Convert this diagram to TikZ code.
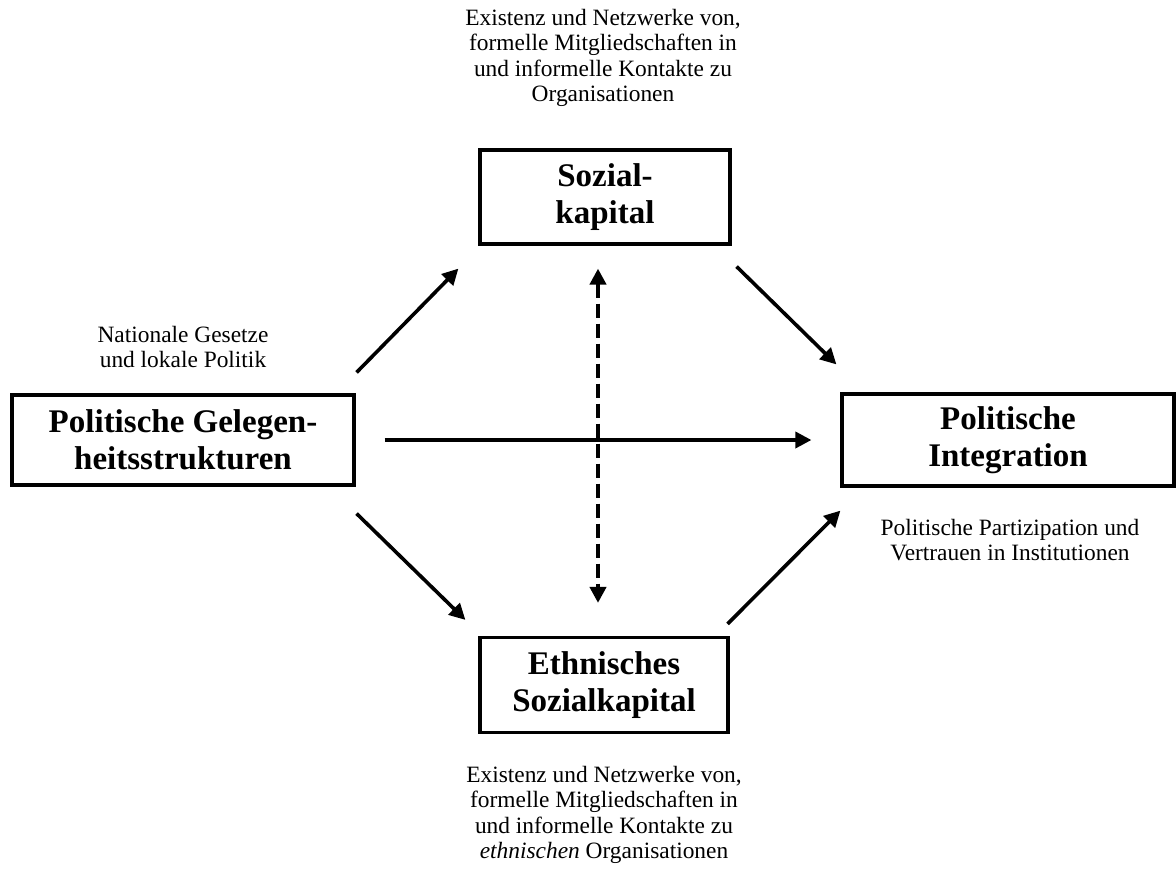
\documentclass[tikz,border=0pt]{standalone}
\usepackage{fontspec}
\setmainfont{Liberation Serif}
\usetikzlibrary{positioning,arrows.meta}

\begin{document}
\begin{tikzpicture}[
	x=0.5pt, y=-0.5pt,
	box/.style={
		draw,
		rectangle,
		line width=1.6pt,
		align=center,
		font=\fontsize{16.5}{18.5}\selectfont\bfseries
	},
	note/.style={
		align=center,
		font=\fontsize{11.7}{12.75}\selectfont
	},
	arrow/.style={
		line width=1.8pt,
		-{Triangle[length=8pt,width=8pt]}
	},
	dasharrow/.style={
		line width=2pt,
		dash pattern=on 7pt off 3pt,
		{Triangle[length=8pt,width=8pt]}-{Triangle[length=8pt,width=8pt]}
	}
	]
	\useasboundingbox (0,0) rectangle (1176,872);
	
	% Nodes
	\node[box, minimum width=171pt, minimum height=45pt] (pol) at (183,440) {Politische Gelegen-\\heitsstrukturen};
	\node[box, minimum width=125pt, minimum height=47pt] (soz) at (605,197) {Sozial-\\kapital};
	\node[box, minimum width=166pt, minimum height=46pt] (integ) at (1008,440) {Politische\\Integration};
	\node[box, minimum width=124pt, minimum height=47.5pt] (ethn) at (604,685) {Ethnisches\\Sozialkapital};
	
	% Notes
	\node[note] (sozinfo) at (603,58) {Existenz und Netzwerke von,\\formelle Mitgliedschaften in\\und informelle Kontakte zu\\Organisationen};
	\node[note] (polinfo) at (183,347) {Nationale Gesetze\\und lokale Politik};
	\node[note] (integinfo) at (1010,540) {Politische Partizipation und\\Vertrauen in Institutionen};
	\node[note] (ethninfo) at (604,815) {Existenz und Netzwerke von,\\formelle Mitgliedschaften in\\und informelle Kontakte zu\\\textit{ethnischen} Organisationen};
	
	% Arrows
	\draw[arrow] ([shift={(1,-21)}]pol.north east) -- ([shift={(-20,23)}]soz.south west);
	\draw[arrow] ([shift={(5,21)}]soz.south east) -- ([shift={(-4,-28)}]integ.north west);
	\draw[arrow] ([shift={(1,27)}]pol.south east) -- ([shift={(-13,-16)}]ethn.north west);
	\draw[arrow] ([shift={(-2,-12)}]ethn.north east) -- ([shift={(0,23)}]integ.south west);
	\draw[arrow, shorten <=14.5pt, shorten >=14.5pt] (pol.east) -- (integ.west);
	\draw[dasharrow] ([shift={(-7,23)}]soz.south) -- ([shift={(-6,-33)}]ethn.north);
	
\end{tikzpicture}
\end{document}
